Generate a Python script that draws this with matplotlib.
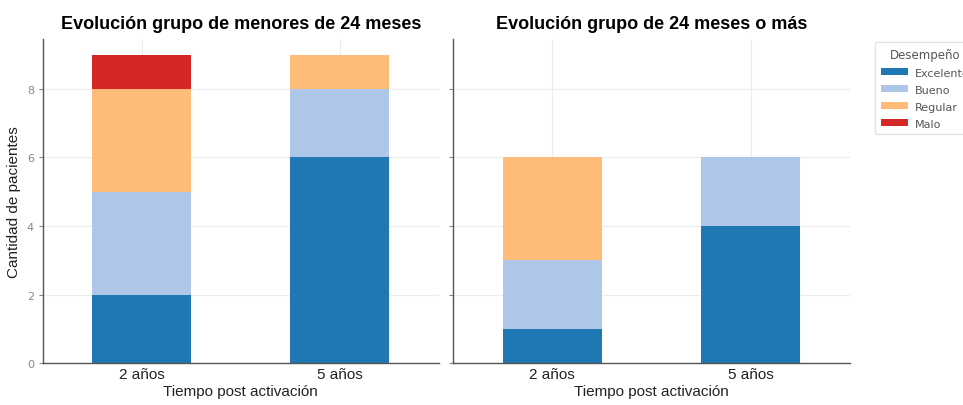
import matplotlib
matplotlib.use("Agg")
import matplotlib.pyplot as plt
import numpy as np

tiempos = ['2 años', '5 años']
categorias = ['Excelente', 'Bueno', 'Regular', 'Malo']
colores = ['#1f77b4', '#aec7e8', '#ffbb78', '#d62728']

# grupo menores de 24 meses
menores = {'Excelente': [2, 6], 'Bueno': [3, 2], 'Regular': [3, 1], 'Malo': [1, 0]}
# grupo 24 meses o más
mayores = {'Excelente': [1, 4], 'Bueno': [2, 2], 'Regular': [3, 0], 'Malo': [0, 0]}

fuente = 'Liberation Sans'

fig = plt.figure(figsize=(9.63, 4.06), dpi=100)
ax1 = fig.add_axes([0.0446, 0.103, 0.411, 0.798])
ax2 = fig.add_axes([0.4704, 0.103, 0.412, 0.798], sharey=ax1)

x = np.arange(len(tiempos))
for ax, datos, titulo in [(ax1, menores, 'Evolución grupo de menores de 24 meses'),
                          (ax2, mayores, 'Evolución grupo de 24 meses o más')]:
    base = np.zeros(len(tiempos))
    for cat, col in zip(categorias, colores):
        vals = np.array(datos[cat])
        ax.bar(x, vals, 0.5, bottom=base, color=col, label=cat, zorder=2)
        base += vals
    ax.set_xticks(x)
    ax.set_xticklabels(tiempos, fontsize=11, color='#222222', family=fuente)
    ax.set_xlim(-0.5, 1.5)
    ax.set_xlabel('Tiempo post activación', fontsize=11, color='#222222',
                  labelpad=2, family=fuente)
    ax.set_title(titulo, fontsize=13, fontweight='bold', pad=8, family=fuente)
    ax.grid(True, color='#ececec', linewidth=0.8, zorder=0)
    for s in ['top', 'right']:
        ax.spines[s].set_visible(False)
    for s in ['left', 'bottom']:
        ax.spines[s].set_color('#555555')
        ax.spines[s].set_linewidth(1.0)
    ax.tick_params(axis='y', colors='#888888', labelsize=8, length=3)
    ax.tick_params(axis='x', length=0, pad=3)

ax1.set_ylim(0, 9.45)
ax1.set_yticks([0, 2, 4, 6, 8])
ax1.set_ylabel('Cantidad de pacientes', fontsize=11, color='#222222', family=fuente)
plt.setp(ax2.get_yticklabels(), visible=False)

handles, labels = ax1.get_legend_handles_labels()
leg = fig.legend(handles, labels, title='Desempeño', loc='upper left',
                 bbox_to_anchor=(0.9087, 0.894), fontsize=8, title_fontsize=8.5,
                 frameon=True, handlelength=2.5, handleheight=0.55,
                 handletextpad=0.6, labelspacing=0.63, borderpad=0.5,
                 borderaxespad=0)
leg.get_frame().set_edgecolor('#dddddd')
for t in leg.get_texts():
    t.set_color('#555555')
leg.get_title().set_color('#555555')

fig.savefig('out.png', dpi=100)
